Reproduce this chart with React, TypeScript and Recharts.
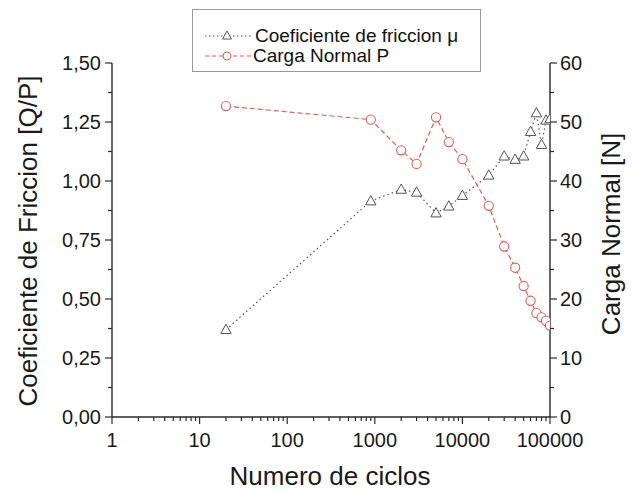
import React from "react";
import {
  ComposedChart,
  Line,
  XAxis,
  YAxis,
  Legend,
} from "recharts";

const cycles = [20, 900, 2000, 3000, 5000, 7000, 10000, 20000, 30000, 40000, 50000, 60000, 70000, 80000, 90000, 100000];
const friction = [0.37, 0.915, 0.964, 0.952, 0.864, 0.893, 0.938, 1.024, 1.105, 1.091, 1.105, 1.209, 1.288, 1.154, 1.257, 1.263];
const load = [52.7, 50.4, 45.2, 42.9, 50.8, 46.6, 43.7, 35.8, 28.9, 25.3, 22.2, 19.7, 17.6, 16.9, 16.3, 15.5];

const xMajor = [1, 10, 100, 1000, 10000, 100000];
const leftMajor = [0, 0.25, 0.5, 0.75, 1, 1.25, 1.5];
const rightMajor = [0, 10, 20, 30, 40, 50, 60];

// minor ticks: 2..9 inside each decade, and halfway between the major y ticks
const xTicks: number[] = [];
xMajor.forEach((d, i) => {
  if (i === xMajor.length - 1) {
    xTicks.push(d);
    return;
  }
  for (let k = 1; k <= 9; k++) xTicks.push(d * k);
});
const leftTicks: number[] = [];
leftMajor.forEach((v, i) => {
  leftTicks.push(v);
  if (i < leftMajor.length - 1) leftTicks.push(v + 0.125);
});
const rightTicks: number[] = [];
rightMajor.forEach((v, i) => {
  rightTicks.push(v);
  if (i < rightMajor.length - 1) rightTicks.push(v + 5);
});

const rows = cycles.map((c, i) => ({ cycles: c, friction: friction[i], load: load[i] }));

const FONT = "'Liberation Sans', Arial, Helvetica, sans-serif";
const AXIS = "#2a2a2a";
const GREY = "#555555";
const RED = "#de5b5b";

const isMajor = (list: number[], v: number) => list.some((m) => Math.abs(m - v) < 1e-9);

function XTick(props: any) {
  const { x, y, payload } = props;
  const v = payload.value;
  const major = isMajor(xMajor, v);
  return (
    <g>
      <line x1={x} x2={x} y1={y} y2={y + (major ? 7 : 4)} stroke={AXIS} strokeWidth={1.2} />
      {major && (
        <text x={x} y={y + 30} textAnchor="middle" fontSize={20} fontFamily={FONT} fill="#1a1a1a">
          {v}
        </text>
      )}
    </g>
  );
}

function LeftTick(props: any) {
  const { x, y, payload } = props;
  const v = payload.value;
  const major = isMajor(leftMajor, v);
  return (
    <g>
      <line x1={x} x2={x - (major ? 7 : 4)} y1={y} y2={y} stroke={AXIS} strokeWidth={1.2} />
      {major && (
        <text x={x - 11} y={y + 7} textAnchor="end" fontSize={20} fontFamily={FONT} fill="#1a1a1a">
          {v.toFixed(2).replace(".", ",")}
        </text>
      )}
    </g>
  );
}

function RightTick(props: any) {
  const { x, y, payload } = props;
  const v = payload.value;
  const major = isMajor(rightMajor, v);
  return (
    <g>
      <line x1={x} x2={x + (major ? 7 : 4)} y1={y} y2={y} stroke={AXIS} strokeWidth={1.2} />
      {major && (
        <text x={x + 10} y={y + 7} textAnchor="start" fontSize={20} fontFamily={FONT} fill="#1a1a1a">
          {v}
        </text>
      )}
    </g>
  );
}

function TriangleDot(props: any) {
  const { cx, cy, index } = props;
  if (cx == null || cy == null) return <g key={index} />;
  return (
    <polygon
      key={index}
      points={`${cx},${cy - 5.5} ${cx - 5.2},${cy + 3.8} ${cx + 5.2},${cy + 3.8}`}
      fill="#fff"
      stroke={GREY}
      strokeWidth={1}
    />
  );
}

function CircleDot(props: any) {
  const { cx, cy, index } = props;
  if (cx == null || cy == null) return <g key={index} />;
  return <circle key={index} cx={cx} cy={cy} r={4.6} fill="#fff" stroke={RED} strokeWidth={1.1} />;
}

function LegendBox() {
  const row = { display: "flex", alignItems: "center", height: 20, lineHeight: "20px" };
  return (
    <div
      style={{
        width: 287,
        height: 61,
        border: "1px solid #9a9a9a",
        background: "#fff",
        boxSizing: "content-box",
        fontFamily: FONT,
        fontSize: 19,
        color: "#111",
      }}
    >
      <div style={{ height: 16 }} />
      <div style={row}>
        <svg width={62} height={14}>
          <line x1={12} x2={60} y1={7} y2={7} stroke={GREY} strokeWidth={1} strokeDasharray="1.5 2.5" />
          <polygon points="34,2 29.5,10 38.5,10" fill="#fff" stroke={GREY} strokeWidth={1} />
        </svg>
        <span>Coeficiente de friccion μ</span>
      </div>
      <div style={row}>
        <svg width={60} height={14}>
          <line x1={12} x2={58} y1={7} y2={7} stroke={RED} strokeWidth={1} strokeDasharray="4 3" />
          <circle cx={34} cy={7} r={4} fill="#fff" stroke={RED} strokeWidth={1} />
        </svg>
        <span>Carga Normal P</span>
      </div>
    </div>
  );
}

export default function App() {
  return (
    <div style={{ position: "absolute", left: 0, top: 0, width: 633, height: 494, background: "#fff" }}>
      <ComposedChart
        width={633}
        height={494}
        data={rows}
        margin={{ top: 63, right: 0, bottom: 0, left: 0 }}
      >
        <XAxis
          dataKey="cycles"
          type="number"
          scale="log"
          domain={[1, 100000]}
          allowDataOverflow
          ticks={xTicks}
          interval={0}
          height={77}
          tickSize={0}
          tickMargin={0}
          tickLine={false}
          axisLine={{ stroke: AXIS, strokeWidth: 1.4 }}
          tick={(p: any) => <XTick {...p} />}
          label={{
            content: () => (
              <text x={330} y={485} textAnchor="middle" fontSize={26} fontFamily={FONT} fill="#1a1a1a">
                Numero de ciclos
              </text>
            ),
          }}
        />
        <YAxis
          yAxisId="left"
          width={112}
          domain={[0, 1.5]}
          ticks={leftTicks}
          interval={0}
          tickSize={0}
          tickMargin={0}
          tickLine={false}
          axisLine={{ stroke: AXIS, strokeWidth: 1.4 }}
          tick={(p: any) => <LeftTick {...p} />}
          label={{
            content: () => (
              <text
                x={28}
                y={241}
                transform="rotate(-90 28 241)"
                textAnchor="middle"
                dominantBaseline="central"
                fontSize={26}
                fontFamily={FONT}
                fill="#1a1a1a"
              >
                Coeficiente de Friccion [Q/P]
              </text>
            ),
          }}
        />
        <YAxis
          yAxisId="right"
          orientation="right"
          width={83}
          domain={[0, 60]}
          ticks={rightTicks}
          interval={0}
          tickSize={0}
          tickMargin={0}
          tickLine={false}
          axisLine={{ stroke: AXIS, strokeWidth: 1.4 }}
          tick={(p: any) => <RightTick {...p} />}
          label={{
            content: () => (
              <text
                x={611}
                y={234}
                transform="rotate(-90 611 234)"
                textAnchor="middle"
                dominantBaseline="central"
                fontSize={26}
                fontFamily={FONT}
                fill="#1a1a1a"
              >
                Carga Normal [N]
              </text>
            ),
          }}
        />
        <Legend
          layout="horizontal"
          verticalAlign="middle"
          align="center"
          content={() => <LegendBox />}
          wrapperStyle={{ position: "absolute", left: 192, top: 9, width: 289, height: 63 }}
        />
        <Line
          yAxisId="left"
          type="linear"
          dataKey="friction"
          stroke={GREY}
          strokeWidth={1.2}
          strokeDasharray="1.5 3"
          dot={(p: any) => <TriangleDot {...p} />}
          activeDot={false}
          isAnimationActive={false}
        />
        <Line
          yAxisId="right"
          type="linear"
          dataKey="load"
          stroke={RED}
          strokeWidth={1.2}
          strokeDasharray="5 3"
          dot={(p: any) => <CircleDot {...p} />}
          activeDot={false}
          isAnimationActive={false}
        />
      </ComposedChart>
    </div>
  );
}
